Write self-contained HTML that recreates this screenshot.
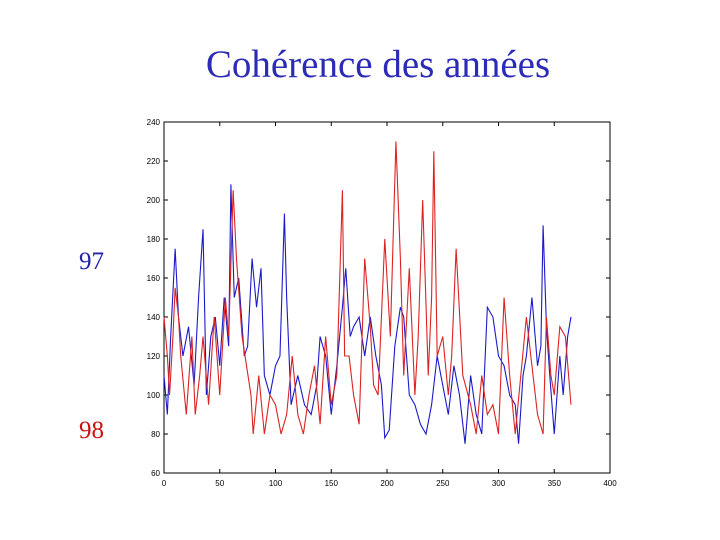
<!DOCTYPE html>
<html><head><meta charset="utf-8"><style>
body{margin:0;width:720px;height:540px;background:#fff;overflow:hidden;font-family:"Liberation Serif",serif}
.t{position:absolute;color:#3333cc}
</style></head><body>
<div class="t" style="left:0;width:756px;text-align:center;top:42px;font-size:39px;color:#2b2bb8">Cohérence des années</div>
<div class="t" style="left:79px;top:248px;font-size:25px;color:#2222aa">97</div>
<div class="t" style="left:79px;top:417px;font-size:25px;color:#cc1111">98</div>
<svg id="c" width="720" height="540" style="position:absolute;left:0;top:0"></svg>
<script>
const xTicks=[0,50,100,150,200,250,300,350,400];
const yTicks=[60,80,100,120,140,160,180,200,220,240];
const days97=[0,3,6,10,13,17,22,27,31,35,38,42,46,50,54,58,60,63,67,72,75,79,83,87,90,95,100,104,108,110,114,120,126,132,137,140,145,150,155,160,163,167,170,175,180,185,190,195,198,202,207,212,215,220,225,230,235,240,245,250,255,260,265,270,275,280,285,290,295,300,305,310,315,318,322,325,330,335,338,340,343,346,350,355,358,362,365];
const vals97=[110,90,130,175,140,120,135,105,150,185,100,130,140,115,150,125,208,150,160,120,125,170,145,165,110,100,115,120,193,150,95,110,95,90,105,130,120,90,115,145,165,130,135,140,120,140,120,105,78,82,125,145,140,100,95,85,80,95,120,105,90,115,100,75,110,90,80,145,140,120,115,100,95,75,110,120,150,115,125,187,135,110,80,120,100,130,140];
const days98=[0,3,5,8,10,13,15,20,25,28,32,35,40,45,50,55,58,62,65,70,74,78,80,85,90,95,100,105,110,115,120,125,130,135,140,145,150,155,160,162,166,170,175,180,185,188,192,198,203,208,212,215,220,225,228,232,237,240,242,245,250,255,258,262,268,275,280,285,290,295,300,305,310,315,320,325,330,335,340,343,347,350,355,360,365];
const vals98=[140,120,100,130,155,140,120,90,130,90,110,130,95,140,100,150,130,205,170,130,115,100,80,110,80,100,95,80,90,120,90,80,100,115,85,130,95,110,205,120,120,100,85,170,135,105,100,180,130,230,170,110,165,100,130,200,110,150,225,120,130,100,120,175,110,95,80,110,90,95,80,150,110,80,110,140,115,90,80,140,110,100,135,130,95];
const L=164,R=610,T=122,B=473;
const xs=v=>L+(v-0)/400*(R-L), ys=v=>B-(v-60)/180*(B-T);
const svg=document.getElementById('c'),NS='http://www.w3.org/2000/svg';
function mk(t,a){const e=document.createElementNS(NS,t);for(const k in a)e.setAttribute(k,a[k]);svg.appendChild(e);return e;}
const fr=mk('rect',{x:L,y:T,width:R-L,height:B-T,fill:'none',stroke:'#000','stroke-width':1});


xTicks.forEach(v=>{const x=xs(v);
 mk('line',{x1:x,x2:x,y1:B,y2:B-4,stroke:'#000'});mk('line',{x1:x,x2:x,y1:T,y2:T+4,stroke:'#000'});
 const t=mk('text',{x:x,y:B+13,'font-size':8,'text-anchor':'middle','font-family':'Liberation Sans, sans-serif'});t.textContent=v;
 
 });
yTicks.forEach(v=>{const y=ys(v);
 mk('line',{x1:L,x2:L+4,y1:y,y2:y,stroke:'#000'});mk('line',{x1:R,x2:R-4,y1:y,y2:y,stroke:'#000'});
 const t=mk('text',{x:L-4,y:y+3,'font-size':8,'text-anchor':'end','font-family':'Liberation Sans, sans-serif'});t.textContent=v;
 
 });
function line(d,v,c,n){const p=mk('polyline',{points:d.map((x,i)=>xs(x)+','+ys(v[i])).join(' '),fill:'none',stroke:c,'stroke-width':1.1});
 
 }
line(days97,vals97,'#1a1acc','series-97');
line(days98,vals98,'#dd2222','series-98');
</script>
</body></html>
